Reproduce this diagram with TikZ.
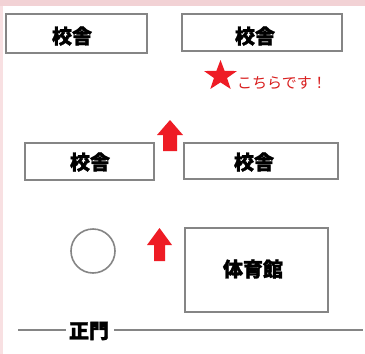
\documentclass[tikz,border=0pt]{standalone}
\usepackage{fontspec}
\newfontfamily\jp{Noto Sans CJK JP}
\newfontfamily\jpheavy{Noto Sans CJK JP}[BoldFeatures={FakeBold=1.6}]
\definecolor{pinktop}{HTML}{F2D2D5}
\definecolor{pinkleft}{HTML}{F8E0E2}
\definecolor{bgray}{HTML}{858585}
\definecolor{starred}{HTML}{EE1C25}
\definecolor{txtred}{HTML}{D91E1E}
\tikzset{
  x=1pt,y=-1pt,
  bldg/.style={draw=bgray,line width=2pt,fill=white},
  blabel/.style={font=\jpheavy\bfseries\fontsize{20}{20}\selectfont,inner sep=0pt},
  uparrow/.style={fill=starred,draw=none},
  road/.style={draw=bgray,line width=1.6pt},
}
\begin{document}
\begin{tikzpicture}
\useasboundingbox (0,0) rectangle (365,354);
\fill[white] (0,0) rectangle (365,354);
\fill[pinktop] (0,0) rectangle (365,6);
\fill[pinkleft] (0,6) rectangle (2.5,354);
% buildings
\draw[bldg] (6,14) rectangle (147,53);
\draw[bldg] (182,14) rectangle (342,51);
\draw[bldg] (25,143) rectangle (154,180);
\draw[bldg] (184,143) rectangle (338,179);
\draw[bldg] (185,228) rectangle (328,312);
\node[blabel] (b1) at (72,36) {校舎};
\node[blabel] (b2) at (255,36) {校舎};
\node[blabel] (b3) at (90,162) {校舎};
\node[blabel] (b4) at (254,162) {校舎};
\node[blabel] (gym) at (253,269) {体育館};
% circle
\node[draw=bgray,line width=1.6pt,circle,minimum size=44pt,inner sep=0pt] (c) at (93,251) {};
% star and text
\coordinate (st) at (220.5,76);
\begin{scope}[shift={(st)},xscale=1.08]
\fill[starred] (-90:16) -- (-54:6.4) -- (-18:16) -- (18:6.4) -- (54:16) -- (90:6.4)
  -- (126:16) -- (162:6.4) -- (198:16) -- (234:6.4) -- cycle;
\end{scope}
\node[anchor=base west,inner sep=0pt,text=txtred,font=\jp\fontsize{15}{15}\selectfont] (here) at (237,88) {こちらです！};
% arrows
\fill[uparrow] (170,120) -- (183,135) -- (177,135) -- (177,151) -- (163,151) -- (163,135) -- (157,135) -- cycle;
\fill[uparrow] (159.5,228) -- (172,245) -- (165,245) -- (165,261) -- (154,261) -- (154,245) -- (147,245) -- cycle;
% gate
\node[blabel] (gate) at (89,331) {正門};
\coordinate (l0) at (18,330);
\coordinate (r1) at (363,330);
\draw[road] (l0) -- (66,330);
\draw[road] (114,330) -- (r1);
\end{tikzpicture}
\end{document}
